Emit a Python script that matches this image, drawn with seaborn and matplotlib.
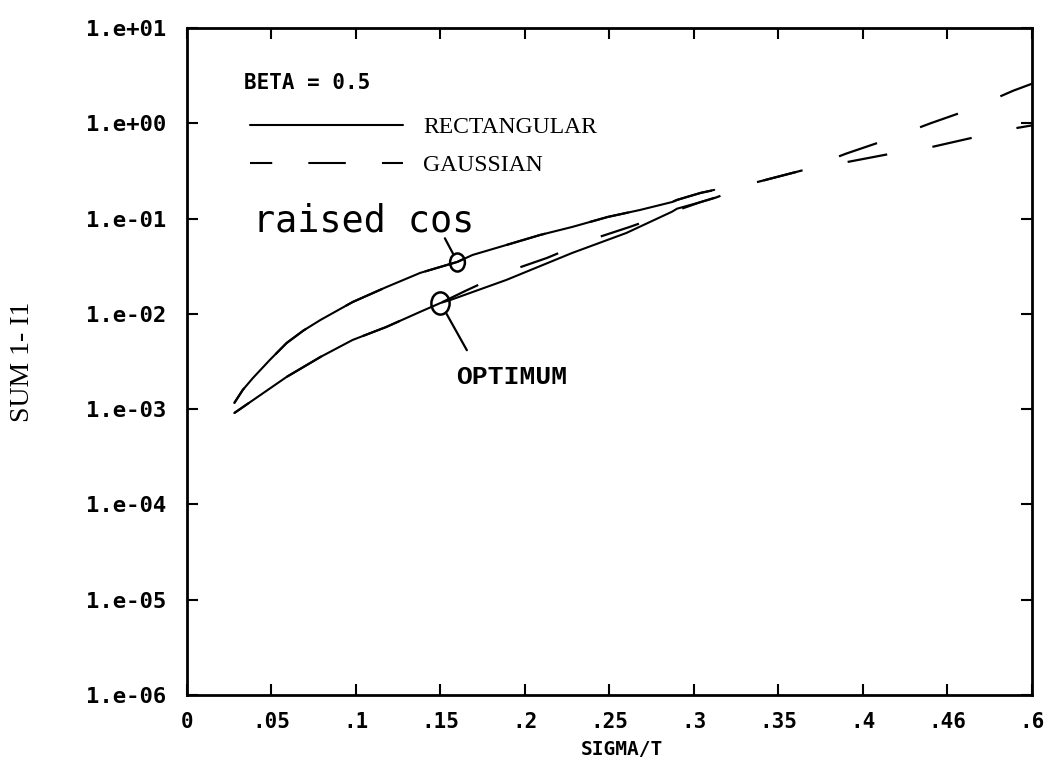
import matplotlib
matplotlib.use("Agg")
import matplotlib.pyplot as plt
import matplotlib.path as mpath
from matplotlib.transforms import Affine2D
from matplotlib.lines import Line2D
from matplotlib.ticker import NullLocator
import seaborn as sns

#########################################################
# Values (BETA = 0.5)
#########################################################

# raised cosine - rectangular (solid)
rc_rect_sigma = [0.028, 0.033, 0.039, 0.049, 0.059, 0.069, 0.079, 0.098, 0.118, 0.138,
                 0.160, 0.169, 0.189, 0.209, 0.228, 0.249, 0.268, 0.287, 0.290, 0.304,
                 0.312]
rc_rect = [1.16e-3, 1.59e-3, 2.12e-3, 3.28e-3, 4.95e-3, 6.7e-3, 8.63e-3, 1.33e-2, 1.91e-2,
           2.69e-2, 3.51e-2, 4.15e-2, 5.28e-2, 6.73e-2, 8.17e-2, 0.104, 0.123, 0.149,
           0.157, 0.186, 0.200]

# raised cosine - gaussian (dashed), runs on to .5
rc_gauss_sigma = [0.028, 0.033, 0.039, 0.049, 0.059, 0.069, 0.079, 0.098, 0.118, 0.138,
                  0.160, 0.169, 0.189, 0.209, 0.228, 0.249, 0.268, 0.287, 0.290, 0.304,
                  0.3125, 0.338, 0.364, 0.390, 0.414, 0.440, 0.464, 0.489, 0.500]
rc_gauss = [1.16e-3, 1.59e-3, 2.12e-3, 3.28e-3, 4.95e-3, 6.7e-3, 8.63e-3, 1.33e-2, 1.91e-2,
            2.69e-2, 3.51e-2, 4.15e-2, 5.28e-2, 6.73e-2, 8.17e-2, 0.104, 0.123, 0.149,
            0.157, 0.186, 0.200, 0.243, 0.32, 0.48, 0.67, 1.0, 1.41, 2.2, 2.6]

# optimum - rectangular (solid)
opt_rect_sigma = [0.028, 0.059, 0.079, 0.098, 0.118, 0.138, 0.150, 0.156, 0.189,
                  0.228, 0.260, 0.287, 0.290, 0.304, 0.312]
opt_rect = [9.1e-4, 2.18e-3, 3.53e-3, 5.32e-3, 7.29e-3, 1.05e-2, 1.30e-2, 1.40e-2, 2.27e-2,
            4.36e-2, 7.06e-2, 0.118, 0.127, 0.149, 0.165]

# optimum - gaussian (dashed)
opt_gauss_sigma = [0.028, 0.059, 0.079, 0.098, 0.118, 0.138, 0.150, 0.165, 0.189,
                   0.213, 0.2385, 0.262, 0.287, 0.304, 0.3125, 0.338, 0.364, 0.390,
                   0.414, 0.440, 0.464, 0.489, 0.500]
opt_gauss = [9.1e-4, 2.18e-3, 3.53e-3, 5.32e-3, 7.29e-3, 1.05e-2, 1.30e-2, 1.75e-2, 2.75e-2,
             3.86e-2, 5.96e-2, 8.17e-2, 0.117, 0.149, 0.165, 0.243, 0.32, 0.39,
             0.47, 0.56, 0.70, 0.88, 0.95]

x_ticks = [0, 0.05, 0.1, 0.15, 0.2, 0.25, 0.3, 0.35, 0.4, 0.45, 0.5]
x_tick_labels = ["0", ".05", ".1", ".15", ".2", ".25", ".3", ".35", ".4", ".46", ".6"]
y_ticks = [1e-6, 1e-5, 1e-4, 1e-3, 1e-2, 1e-1, 1e0, 1e1]
y_tick_labels = ["1.e-06", "1.e-05", "1.e-04", "1.e-03", "1.e-02", "1.e-01", "1.e+00", "1.e+01"]

#########################################################
# Style
#########################################################

sns.set_style("ticks")
plt.rcParams["font.family"] = ["DejaVu Sans Mono", "DejaVu Sans"]
plt.rcParams["lines.scale_dashes"] = False
plt.rcParams["text.color"] = "black"
plt.rcParams["axes.labelcolor"] = "black"
plt.rcParams["xtick.color"] = "black"
plt.rcParams["ytick.color"] = "black"

plotter_font = dict(family="DejaVu Sans Mono", weight="bold")
serif_font = dict(family="Liberation Serif")

solid = "-"
dashed = (16, (29, 33))

fig, ax = plt.subplots(figsize=(10.57, 7.67), dpi=100)
fig.subplots_adjust(left=0.1769, right=0.9763, top=0.9635, bottom=0.0939)

#########################################################
# Curves
#########################################################

sns.lineplot(x=rc_rect_sigma, y=rc_rect, color="black", lw=1.5, linestyle=solid,
             estimator=None, sort=False, ax=ax)
sns.lineplot(x=rc_gauss_sigma, y=rc_gauss, color="black", lw=1.6, linestyle=dashed,
             estimator=None, sort=False, ax=ax)
sns.lineplot(x=opt_rect_sigma, y=opt_rect, color="black", lw=1.5, linestyle=solid,
             estimator=None, sort=False, ax=ax)
sns.lineplot(x=opt_gauss_sigma, y=opt_gauss, color="black", lw=1.6, linestyle=dashed,
             estimator=None, sort=False, ax=ax)

ax.set_yscale("log")
ax.set_xlim(0, 0.5)
ax.set_ylim(1e-6, 1e1)

ax.set_xticks(x_ticks, x_tick_labels)
ax.set_yticks(y_ticks, y_tick_labels)
ax.yaxis.set_minor_locator(NullLocator())
ax.tick_params(axis="both", direction="in", top=True, right=True, length=8, width=1.5,
               labelsize=15, colors="black")
ax.tick_params(axis="x", pad=12)
ax.tick_params(axis="y", pad=15, labelsize=16)
for lab in ax.get_xticklabels() + ax.get_yticklabels():
    lab.set_fontweight("bold")

for sp in ax.spines.values():
    sp.set_linewidth(2)
    sp.set_color("black")

ax.set_xlabel("SIGMA/T", fontsize=14, **plotter_font)
ax.xaxis.set_label_coords(0.515, -0.068)
ax.set_ylabel("SUM 1- I1", fontsize=20, **serif_font)
ax.yaxis.set_label_coords(-0.18, 0.5)

#########################################################
# Legend
#########################################################

ax.text(0.067, 0.917, "BETA = 0.5", transform=ax.transAxes, fontsize=15,
        va="center", ha="left", **plotter_font)

handles = [Line2D([], [], color="black", lw=1.5),
           Line2D([], [], color="black", lw=1.5, ls=(11, (27, 26)))]
ax.legend(handles, ["RECTANGULAR", "GAUSSIAN"],
          loc="upper left", bbox_to_anchor=(0.074, 0.8675), frameon=False,
          handlelength=6.5, handletextpad=0.85, labelspacing=0.72,
          borderpad=0, borderaxespad=0,
          prop=dict(size=17, **serif_font))

#########################################################
# Annotations: circled curves
#########################################################

ellipse = Affine2D().scale(0.82, 1.0).transform_path(mpath.Path.unit_circle())

i_rc = 10
ax.plot(rc_rect_sigma[i_rc], rc_rect[i_rc], marker=ellipse, ms=13, mfc="none",
        mec="black", mew=1.8)
ax.annotate("", xy=(rc_rect_sigma[i_rc], rc_rect[i_rc]), xytext=(-9, 17),
            textcoords="offset points",
            arrowprops=dict(arrowstyle="-", lw=1.6, color="black", shrinkA=0, shrinkB=6))
ax.text(0.039, 0.0723, "raised cos", fontsize=26.5, family="DejaVu Sans Mono",
        va="baseline", ha="left")

i_opt = 6
ax.plot(opt_rect_sigma[i_opt], opt_rect[i_opt], marker=ellipse, ms=16, mfc="none",
        mec="black", mew=1.8)
ax.annotate("", xy=(opt_rect_sigma[i_opt], opt_rect[i_opt]), xytext=(19, -34),
            textcoords="offset points",
            arrowprops=dict(arrowstyle="-", lw=1.6, color="black", shrinkA=0, shrinkB=8))
ax.text(0.159, 2.18e-3, "OPTIMUM", fontsize=19, family="Liberation Mono",
        weight="bold", va="center", ha="left")

plt.savefig("out.png", dpi=100)
